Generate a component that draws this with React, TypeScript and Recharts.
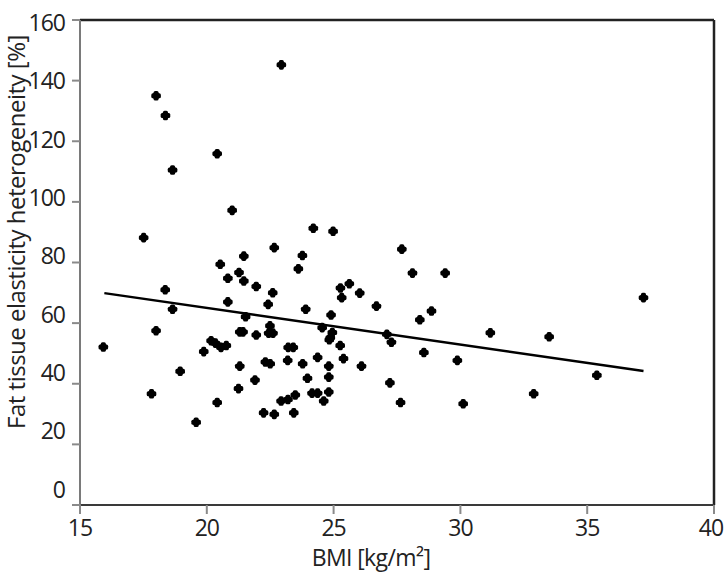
import React from "react";
import {
  ScatterChart,
  Scatter,
  XAxis,
  YAxis,
  ReferenceLine,
  Label,
} from "recharts";

// BMI [kg/m2] of each patient
const bmi = [
  22.94, 18.0, 18.37, 20.41, 18.65, 21.0, 17.51, 22.66, 21.46, 24.2,
  24.98, 23.77, 27.69, 20.53, 20.83, 21.27, 21.46, 21.95, 22.6, 18.36,
  18.65, 20.83, 22.42, 21.53, 22.49, 18.0, 21.3, 21.43, 22.44, 22.61,
  21.95, 15.92, 20.17, 20.34, 20.56, 20.77, 23.21, 23.41, 19.88, 18.95,
  21.3, 22.31, 22.5, 23.19, 21.9, 21.25, 17.82, 20.41, 22.93, 23.2,
  23.49, 22.24, 22.66, 19.58, 23.61, 28.11, 29.4, 25.62, 25.27, 25.32,
  26.03, 26.69, 23.9, 28.86, 28.4, 24.9, 24.55, 24.95, 24.87, 24.83,
  27.1, 27.28, 31.18, 25.26, 23.78, 24.37, 25.39, 24.81, 26.1, 28.56,
  29.88, 23.97, 24.81, 27.22, 24.15, 24.37, 24.81, 24.61, 23.43, 27.64,
  30.11, 33.5, 37.22, 35.38, 32.89,
];

// fat tissue elasticity heterogeneity [%], same order
const heterogeneity = [
  145.2, 135.0, 128.5, 115.9, 110.5, 97.2, 88.2, 84.9, 82.1, 91.3,
  90.3, 82.3, 84.4, 79.4, 74.8, 76.7, 73.9, 72.1, 70.0, 71.0,
  64.6, 67.0, 66.2, 62.1, 59.1, 57.5, 57.1, 57.1, 56.7, 56.7,
  56.1, 52.1, 54.2, 53.4, 52.0, 52.6, 52.0, 52.0, 50.6, 44.1,
  45.8, 47.2, 46.6, 47.7, 41.2, 38.4, 36.7, 33.8, 34.3, 34.8,
  36.3, 30.4, 29.9, 27.3, 77.9, 76.5, 76.5, 73.0, 71.6, 68.4,
  69.9, 65.6, 64.6, 64.0, 61.1, 62.7, 58.5, 56.9, 55.2, 54.5,
  56.3, 53.7, 56.8, 52.6, 46.6, 48.7, 48.3, 45.8, 45.8, 50.3,
  47.7, 41.8, 42.2, 40.3, 36.9, 36.9, 37.3, 34.3, 30.4, 33.8,
  33.4, 55.5, 68.4, 42.8, 36.7,
];

// fitted line end points
const fitBmi = [15.96, 37.22];
const fitHet = [69.9, 44.2];

const xTicks = [15, 20, 25, 30, 35, 40];
const yTicks = [0, 20, 40, 60, 80, 100, 120, 140, 160];

const points = bmi.map((b, i) => ({ bmi: b, het: heterogeneity[i] }));

const FONT = "'Open Sans', 'Noto Sans', sans-serif";
const TEXT = "#222";

function Marker(props: any) {
  const { cx, cy } = props;
  if (cx == null || cy == null) return null;
  return (
    <g fill="#000">
      <rect x={cx - 4.8} y={cy - 2.5} width={9.6} height={5} rx={1.6} />
      <rect x={cx - 2.5} y={cy - 4.8} width={5} height={9.6} rx={1.6} />
      <circle cx={cx} cy={cy} r={3.6} />
    </g>
  );
}

function YTick(props: any) {
  const { x, y, payload } = props;
  // labels sit a little tighter than the ticks in the source figure
  const k = (160 - payload.value) / 20;
  const shift = 2 - 2.3 * k;
  return (
    <text
      x={x}
      y={y + shift}
      textAnchor="end"
      dominantBaseline="central"
      fontFamily={FONT}
      fontSize={23}
      letterSpacing={-1}
      fill={TEXT}
    >
      {payload.value}
    </text>
  );
}

function XTick(props: any) {
  const { x, y, payload } = props;
  const dx = payload.value === 40 ? -3 : 0;
  return (
    <text
      x={x + dx}
      y={y}
      dy="0.71em"
      textAnchor="middle"
      fontFamily={FONT}
      fontSize={23}
      letterSpacing={-1}
      fill={TEXT}
    >
      {payload.value}
    </text>
  );
}

export default function App() {
  return (
    <div style={{ position: "absolute", left: 0, top: 0, background: "#fff" }}>
      <ScatterChart
        width={724}
        height={584}
        margin={{ top: 20, right: 10, bottom: 0, left: 0 }}
      >
        <XAxis
          type="number"
          dataKey="bmi"
          domain={[15, 40]}
          ticks={xTicks}
          height={79}
          tickSize={9}
          tickMargin={6}
          tick={<XTick />}
          axisLine={{ stroke: "#3a3a3a", strokeWidth: 2 }}
          tickLine={{ stroke: "#8a8a8a", strokeWidth: 2 }}
        >
          <Label
            content={() => (
              <text
                x={371}
                y={557}
                textAnchor="middle"
                dominantBaseline="central"
                fontFamily={FONT}
                fontSize={23}
                letterSpacing={-0.6}
                fill={TEXT}
              >
                BMI [kg/m²]
              </text>
            )}
          />
        </XAxis>
        <YAxis
          type="number"
          dataKey="het"
          domain={[0, 160]}
          ticks={yTicks}
          width={80}
          tickSize={8}
          tickMargin={7}
          tick={<YTick />}
          axisLine={{ stroke: "#7a7a7a", strokeWidth: 2 }}
          tickLine={{ stroke: "#8a8a8a", strokeWidth: 2 }}
        >
          <Label
            content={() => (
              <text
                x={15}
                y={232}
                transform="rotate(-90 15 232)"
                textAnchor="middle"
                dominantBaseline="central"
                fontFamily={FONT}
                fontSize={24}
                letterSpacing={-0.5}
                fill={TEXT}
              >
                Fat tissue elasticity heterogeneity [%]
              </text>
            )}
          />
        </YAxis>
        <ReferenceLine y={160} stroke="#222" strokeWidth={2.5} />
        <ReferenceLine x={40} stroke="#222" strokeWidth={2.5} />
        <ReferenceLine
          segment={[
            { x: fitBmi[0], y: fitHet[0] },
            { x: fitBmi[1], y: fitHet[1] },
          ]}
          stroke="#000"
          strokeWidth={2.5}
        />
        <Scatter
          data={points}
          shape={(p: any) => <Marker cx={p.cx} cy={p.cy} />}
          isAnimationActive={false}
        />
      </ScatterChart>
    </div>
  );
}
